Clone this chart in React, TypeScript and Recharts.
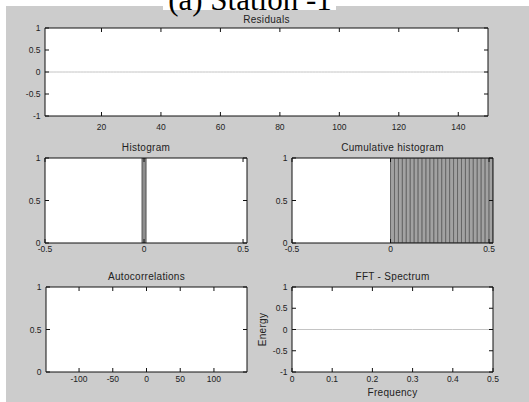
import React from "react";
import { BarChart, Bar, LineChart, Line, XAxis, YAxis, CartesianGrid } from "recharts";

// residuals of station 1, one per sample (all zero)
const residuals = [
  0, 0, 0, 0, 0, 0, 0, 0, 0, 0, 0, 0, 0, 0, 0, 0, 0, 0, 0, 0, 0, 0, 0, 0, 0,
  0, 0, 0, 0, 0, 0, 0, 0, 0, 0, 0, 0, 0, 0, 0, 0, 0, 0, 0, 0, 0, 0, 0, 0, 0,
  0, 0, 0, 0, 0, 0, 0, 0, 0, 0, 0, 0, 0, 0, 0, 0, 0, 0, 0, 0, 0, 0, 0, 0, 0,
  0, 0, 0, 0, 0, 0, 0, 0, 0, 0, 0, 0, 0, 0, 0, 0, 0, 0, 0, 0, 0, 0, 0, 0, 0,
  0, 0, 0, 0, 0, 0, 0, 0, 0, 0, 0, 0, 0, 0, 0, 0, 0, 0, 0, 0, 0, 0, 0, 0, 0,
  0, 0, 0, 0, 0, 0, 0, 0, 0, 0, 0, 0, 0, 0, 0, 0, 0, 0, 0, 0, 0, 0, 0, 0, 0,
];

const histBins = [-0.04, -0.02, 0, 0.02, 0.04];
const histCounts = [0, 0, 1, 0, 0];

const cumBins = [
  0.01, 0.03, 0.05, 0.07, 0.09, 0.11, 0.13, 0.15, 0.17, 0.19, 0.21, 0.23, 0.25,
  0.27, 0.29, 0.31, 0.33, 0.35, 0.37, 0.39, 0.41, 0.43, 0.45, 0.47, 0.49, 0.51,
];
const cumCounts = [1, 1, 1, 1, 1, 1, 1, 1, 1, 1, 1, 1, 1, 1, 1, 1, 1, 1, 1, 1, 1, 1, 1, 1, 1, 1];

// autocorrelation of a constant series is undefined -> nothing drawn
const acfLags = [-149, 0, 149];
const acfValues = [null, null, null];

const fftFreq = [0, 0.1, 0.2, 0.3, 0.4, 0.5];
const fftEnergy = [0, 0, 0, 0, 0, 0];

const residualTicks = [20, 40, 60, 80, 100, 120, 140];
const pmTicks = [-1, -0.5, 0, 0.5, 1];
const unitTicks = [0, 0.5, 1];
const histTicks = [-0.5, 0, 0.5];
const acfTicks = [-100, -50, 0, 50, 100];
const fftTicks = [0, 0.1, 0.2, 0.3, 0.4, 0.5];

const residualData = residuals.map((r, i) => ({ n: i + 1, r }));
const histData = histBins.map((b, i) => ({ b, c: histCounts[i] }));
const cumData = cumBins.map((b, i) => ({ b, c: cumCounts[i] }));
const acfData = acfLags.map((lag, i) => ({ lag, v: acfValues[i] }));
const fftData = fftFreq.map((f, i) => ({ f, e: fftEnergy[i] }));

const SANS = "'Liberation Sans', Arial, Helvetica, sans-serif";
const tickStyle = { fontSize: 8.5, fill: "#222", fontFamily: SANS };
const labelStyle = { fontSize: 10, fill: "#222", fontFamily: SANS, letterSpacing: 0.3 };
const AX = "#111";

type Box = { x: number; y: number; w: number; h: number };
const TOP = 30;
const RIGHT = 10;
const BOTTOM = 30;

const place = (box: Box, leftW: number) => ({
  style: { position: "absolute", left: box.x - leftW, top: box.y - TOP } as React.CSSProperties,
  width: box.w + leftW + RIGHT,
  height: box.h + TOP + BOTTOM,
});

const chartMargin = { top: TOP - 1, right: RIGHT - 1, bottom: 0, left: 0 };

// matlab-like box: inward ticks on all four sides
const boxAxes = (o: {
  xKey: string;
  xDomain: [number, number];
  xTicks: number[];
  yDomain: [number, number];
  yTicks: number[];
  title: string;
  titleOffset: number;
  xMargin: number;
  leftW: number;
  xLabel?: string;
  yLabel?: string;
}) => [
  <CartesianGrid key="bg" fill="#fff" horizontal={false} vertical={false} />,
  <XAxis
    key="xb"
    dataKey={o.xKey}
    type="number"
    domain={o.xDomain}
    ticks={o.xTicks}
    interval={0}
    allowDataOverflow
    height={BOTTOM}
    tickSize={-4}
    tickMargin={o.xMargin}
    tick={tickStyle}
    stroke={AX}
    label={o.xLabel ? { value: o.xLabel, position: "insideBottom", offset: 6, style: labelStyle } : undefined}
  />,
  <XAxis
    key="xt"
    xAxisId="top"
    orientation="top"
    dataKey={o.xKey}
    type="number"
    domain={o.xDomain}
    ticks={o.xTicks}
    interval={0}
    allowDataOverflow
    height={1}
    tickSize={-4}
    tickFormatter={() => ""}
    stroke={AX}
    label={{ value: o.title, position: "top", offset: o.titleOffset, style: labelStyle }}
  />,
  <YAxis
    key="yl"
    type="number"
    domain={o.yDomain}
    ticks={o.yTicks}
    interval={0}
    allowDataOverflow
    width={o.leftW}
    tickSize={-4}
    tickMargin={8.5}
    tick={tickStyle}
    stroke={AX}
    label={o.yLabel ? { value: o.yLabel, angle: -90, position: "center", style: labelStyle } : undefined}
  />,
  <YAxis
    key="yr"
    yAxisId="right"
    orientation="right"
    type="number"
    domain={o.yDomain}
    ticks={o.yTicks}
    interval={0}
    allowDataOverflow
    width={1}
    tickSize={-4}
    tickFormatter={() => ""}
    stroke={AX}
  />,
];

const resBox: Box = { x: 45, y: 28, w: 443, h: 88 };
const histBox: Box = { x: 45, y: 158, w: 202, h: 85 };
const cumBox: Box = { x: 292, y: 158, w: 201, h: 85 };
const acfBox: Box = { x: 46, y: 287, w: 201, h: 85 };
const fftBox: Box = { x: 292, y: 287, w: 201, h: 85 };

export default function App() {
  return (
    <div style={{ position: "absolute", left: 0, top: 0, width: 529, height: 402, background: "#fff", overflow: "hidden" }}>
      <div style={{ position: "absolute", left: 6, top: 6, right: 0, bottom: 0, background: "#cccccc" }} />

      <div {...{ style: place(resBox, 45).style }}>
        <LineChart width={place(resBox, 45).width} height={place(resBox, 45).height} data={residualData} margin={chartMargin}>
          {boxAxes({
            xKey: "n", xDomain: [1, 150], xTicks: residualTicks, yDomain: [-1, 1], yTicks: pmTicks,
            title: "Residuals", titleOffset: 4.5, xMargin: 12, leftW: 45,
          })}
          <Line dataKey="r" stroke="#c4c4c4" strokeWidth={1} dot={false} isAnimationActive={false} />
        </LineChart>
      </div>

      <div {...{ style: place(histBox, 45).style }}>
        <BarChart width={place(histBox, 45).width} height={place(histBox, 45).height} data={histData} margin={chartMargin} barCategoryGap={0} barGap={0}>
          {boxAxes({
            xKey: "b", xDomain: [-0.5, 0.52], xTicks: histTicks, yDomain: [0, 1], yTicks: unitTicks,
            title: "Histogram", titleOffset: 6.5, xMargin: 7, leftW: 45,
          })}
          <Bar dataKey="c" fill="#8e8e8e" stroke="#555" strokeWidth={1} isAnimationActive={false} />
        </BarChart>
      </div>

      <div {...{ style: place(cumBox, 45).style }}>
        <BarChart width={place(cumBox, 45).width} height={place(cumBox, 45).height} data={cumData} margin={chartMargin} barCategoryGap={0} barGap={0}>
          {boxAxes({
            xKey: "b", xDomain: [-0.5, 0.52], xTicks: histTicks, yDomain: [0, 1], yTicks: unitTicks,
            title: "Cumulative histogram", titleOffset: 6.5, xMargin: 7, leftW: 45,
          })}
          <Bar dataKey="c" fill="#a2a2a2" stroke="#666" strokeWidth={1} isAnimationActive={false} />
        </BarChart>
      </div>

      <div {...{ style: place(acfBox, 45).style }}>
        <LineChart width={place(acfBox, 45).width} height={place(acfBox, 45).height} data={acfData} margin={chartMargin}>
          {boxAxes({
            xKey: "lag", xDomain: [-149, 149], xTicks: acfTicks, yDomain: [0, 1], yTicks: unitTicks,
            title: "Autocorrelations", titleOffset: 6.5, xMargin: 8, leftW: 45,
          })}
          <Line dataKey="v" stroke="#0000ff" dot={false} isAnimationActive={false} />
        </LineChart>
      </div>

      <div {...{ style: place(fftBox, 60).style }}>
        <LineChart width={place(fftBox, 60).width} height={place(fftBox, 60).height} data={fftData} margin={chartMargin}>
          {boxAxes({
            xKey: "f", xDomain: [0, 0.5], xTicks: fftTicks, yDomain: [-1, 1], yTicks: pmTicks,
            title: "FFT - Spectrum", titleOffset: 6.5, xMargin: 8, leftW: 60,
            xLabel: "Frequency", yLabel: "Energy",
          })}
          <Line dataKey="e" stroke="#c4c4c4" strokeWidth={1} dot={false} isAnimationActive={false} />
        </LineChart>
      </div>

      <svg width={529} height={20} style={{ position: "absolute", left: 0, top: 0 }}>
        <rect x={163} y={0} width={173} height={10} fill="#fff" />
        <text x={250} y={10} textAnchor="middle" fontFamily="'Liberation Serif', 'Times New Roman', serif" fontSize={31} fill="#000">
          (a) Station -1
        </text>
      </svg>
    </div>
  );
}
